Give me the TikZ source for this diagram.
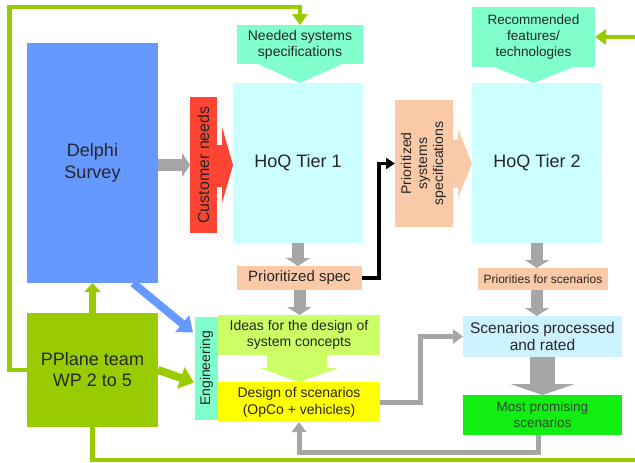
\documentclass[tikz,border=0pt]{standalone}
\usepackage{fontspec}
\usepackage{graphicx}
\setmainfont{Liberation Sans}
\usetikzlibrary{arrows.meta,calc}
\definecolor{gline}{HTML}{99CC00}
\definecolor{delphiblue}{HTML}{6699FF}
\definecolor{redc}{HTML}{FF4433}
\definecolor{aqua}{HTML}{80FFCC}
\definecolor{hoqc}{HTML}{CCFFFF}
\definecolor{peach}{HTML}{F9C9A8}
\definecolor{ideasc}{HTML}{CCFF66}
\definecolor{yel}{HTML}{FFFF00}
\definecolor{scenc}{HTML}{CCF2FF}
\definecolor{mostc}{HTML}{11EE11}
\definecolor{grayc}{HTML}{A6A6A6}
\definecolor{txt}{HTML}{262626}
\definecolor{mosttxt}{HTML}{2E4A2E}
\begin{document}
\begin{tikzpicture}[x=1pt,y=-1pt,
  box/.style={inner sep=0pt, outer sep=0pt, align=center, text=txt},
  fbig/.style={font=\fontsize{18}{22}\selectfont},
  fmid/.style={font=\fontsize{14}{16}\selectfont},
  fsmall/.style={font=\fontsize{12}{14}\selectfont},
  blockg/.style={draw=grayc, line width=12pt, -{Triangle[length=8pt,width=24pt]}},
  thing/.style={draw=grayc, line width=5pt, line join=miter, -{Triangle[length=10pt,width=14pt]}},
  greenl/.style={draw=gline, line width=4.5pt, line join=miter},
]
\useasboundingbox (0,0) rectangle (635,463);
\fill[white] (0,0) rectangle (635,463);

% nodes
\node[box, fill=delphiblue, minimum width=131pt, minimum height=240pt, fbig] (delphi) at (92.5,163) {Delphi\\Survey};
\node[box, fill=gline, minimum width=131pt, minimum height=114pt, font=\fontsize{18}{21}\selectfont] (pplane) at (92.5,370) {PPlane team\\WP 2 to 5};
\node[box, fill=redc, minimum width=27pt, minimum height=136pt, font=\fontsize{16}{18}\selectfont] (cneeds) at (203.5,165) {\rotatebox{90}{Customer needs}};
\node[box, fill=aqua, minimum width=126pt, minimum height=39pt, fmid] (needed) at (300,44.5) {Needed systems\\specifications};
\node[box, fill=hoqc, minimum width=130pt, minimum height=160pt, fbig] (hoq1) at (298,163) {HoQ Tier 1};
\node[box, fill=peach, minimum width=125pt, minimum height=24pt, font=\fontsize{15}{17}\selectfont] (pspec) at (299.5,278) {Prioritized spec};
\node[box, fill=peach, minimum width=58pt, minimum height=127pt, fmid] (psys) at (424,163.5) {\rotatebox{90}{\begin{tabular}{@{}c@{}}Prioritized\\systems\\specifications\end{tabular}}};
\node[box, fill=hoqc, minimum width=130pt, minimum height=160pt, fbig] (hoq2) at (537,163) {HoQ Tier 2};
\node[box, fill=aqua, minimum width=123pt, minimum height=60pt, font=\fontsize{13.5}{16}\selectfont] (recom) at (533.5,37) {Recommended\\features/\\technologies};
\node[box, fill=peach, minimum width=130pt, minimum height=22pt, fsmall] (prio) at (543,279) {Priorities for scenarios};
\node[box, fill=scenc, minimum width=159pt, minimum height=41pt, font=\fontsize{15.5}{17}\selectfont] (scen) at (542.5,336.5) {Scenarios processed\\and rated};
\node[box, fill=mostc, minimum width=159pt, minimum height=40pt, font=\fontsize{13.5}{16}\selectfont, text=mosttxt] (most) at (542.5,415) {Most promising\\scenarios};
\node[box, fill=aqua, minimum width=23pt, minimum height=103pt, fmid] (eng) at (206.5,368.5) {\rotatebox{90}{Engineering}};
\node[box, fill=ideasc, minimum width=162pt, minimum height=40pt, fmid] (ideas) at (299,335) {Ideas for the design of\\system concepts};
\node[box, fill=yel, minimum width=162pt, minimum height=40pt, font=\fontsize{14}{17}\selectfont] (design) at (299,402) {Design of scenarios\\(OpCo + vehicles)};

% block arrow heads attached to boxes
\fill[redc] ($(cneeds.east)+(0,-20)$) -- ++(5,0) -- ++(0,-18) -- ($(cneeds.east)+(16,0)$) -- ($(cneeds.east)+(5,38)$) -- ++(0,-16) -- ($(cneeds.east)+(0,22)$) -- cycle;
\fill[peach] ($(psys.east)+(0,-24)$) -- ++(5,0) -- ++(0,-10) -- ($(psys.east)+(19,0)$) -- ($(psys.east)+(5,34)$) -- ++(0,-10) -- ($(psys.east)+(0,24)$) -- cycle;
\fill[aqua] ($(needed.south west)+(21,0)$) -- ($(needed.south east)+(-21,0)$) -- (needed.south |- hoq1.north) -- cycle;
\fill[aqua] ($(recom.south west)+(22,0)$) -- ($(recom.south east)+(-21,0)$) -- (recom.south |- hoq2.north) -- cycle;
\fill[ideasc] ($(ideas.south)+(-32,0)$) -- ++(60,0) -- ++(0,13) -- ++(11,0) -- (design.north) -- ($(ideas.south)+(-39,13)$) -- ++(7,0) -- cycle;

% gray block arrows
\draw[blockg] (delphi.east |- cneeds.west) -- (cneeds.west);
\draw[blockg] (hoq1.south) -- (hoq1.south |- pspec.north);
\draw[blockg] (pspec.south) -- (pspec.south |- ideas.north);
\draw[blockg] (hoq2.south) -- (hoq2.south |- prio.north);
\draw[blockg] (prio.south -| hoq2.south) -- (hoq2.south |- scen.north);
\draw[draw=grayc, line width=25pt, -{Triangle[length=11pt,width=64pt]}] (scen.south) -- (most.north);

% gray thin connectors
\coordinate (gv) at (420,0);
\draw[thing] (design.east) -- (design.east -| gv) |- (scen.west);
\draw[thing] ($(most.south)+(-4,0)$) -- ++(0,17) -| (design.south);

% black connector
\draw[line width=3.5pt, line join=miter, -{Triangle[length=9pt,width=11pt]}] (pspec.east) -- ++(17,0) |- (psys.west);

% green connectors
\coordinate (corner) at (9.5,7);
\coordinate (re) at (635,37);
\coordinate (be) at (635,460);
\draw[greenl, -{Triangle[length=11pt,width=15pt]}] (pplane.west) -| (corner) -| (needed.north);
\draw[greenl, -{Triangle[length=11pt,width=15pt]}] (re) -- (recom.east);
\draw[greenl] (pplane.south) |- (be);
\draw[draw=gline, line width=7pt, -{Triangle[length=9pt,width=16pt]}] (pplane.north) -- (delphi.south);
\draw[draw=gline, line width=8pt, -{Triangle[length=14pt,width=22pt]}] (pplane.east) -- ($(eng.west)+(-1,14)$);
\draw[draw=delphiblue, line width=8pt, -{Triangle[length=14pt,width=21pt]}] ($(delphi.south east)+(-25,0)$) -- ($(eng.west)+(-2,-36)$);
\end{tikzpicture}
\end{document}
